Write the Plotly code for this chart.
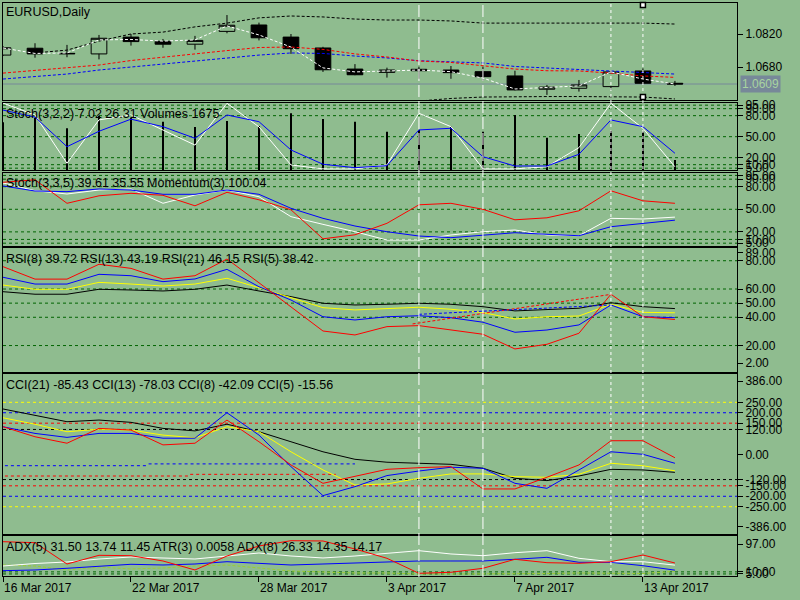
import plotly.graph_objects as go

dates = ["16 Mar 2017", "17 Mar 2017", "20 Mar 2017", "21 Mar 2017", "22 Mar 2017",
         "23 Mar 2017", "24 Mar 2017", "27 Mar 2017", "28 Mar 2017", "29 Mar 2017",
         "30 Mar 2017", "31 Mar 2017", "3 Apr 2017", "4 Apr 2017", "5 Apr 2017",
         "6 Apr 2017", "7 Apr 2017", "10 Apr 2017", "11 Apr 2017", "12 Apr 2017",
         "13 Apr 2017", "14 Apr 2017"]
bars = list(range(len(dates)))
shown_dates = ["16 Mar 2017", "22 Mar 2017", "28 Mar 2017", "3 Apr 2017", "7 Apr 2017", "13 Apr 2017"]
marked_dates = ["4 Apr 2017", "6 Apr 2017"]
dotted_dates = ["12 Apr 2017", "13 Apr 2017"]

# EURUSD daily candles
open_ = [1.0731, 1.0760, 1.0736, 1.0736, 1.0807, 1.0789, 1.0777, 1.0831, 1.0858, 1.0807, 1.0761,
         1.0672, 1.0658, 1.0671, 1.0668, 1.0661, 1.0643, 1.0587, 1.0591, 1.0598, 1.0664, 1.0612]
high = [1.0769, 1.0781, 1.0774, 1.0816, 1.0820, 1.0799, 1.0812, 1.0900, 1.0868, 1.0820, 1.0766,
        1.0693, 1.0678, 1.0682, 1.0685, 1.0682, 1.0665, 1.0605, 1.0626, 1.0668, 1.0675, 1.0622]
low = [1.0727, 1.0720, 1.0722, 1.0713, 1.0771, 1.0762, 1.0754, 1.0823, 1.0793, 1.0736, 1.0660,
       1.0646, 1.0636, 1.0631, 1.0631, 1.0623, 1.0582, 1.0563, 1.0577, 1.0584, 1.0610, 1.0601]
close = [1.0762, 1.0736, 1.0738, 1.0802, 1.0788, 1.0777, 1.0793, 1.0857, 1.0804, 1.0758, 1.0669,
         1.0648, 1.0668, 1.0665, 1.0657, 1.0640, 1.0584, 1.0596, 1.0605, 1.0660, 1.0612, 1.0609]
fast_ma = [1.0761, 1.0738, 1.0740, 1.0795, 1.0797, 1.0790, 1.0795, 1.0854, 1.0816, 1.0765, 1.0677,
           1.0660, 1.0664, 1.0668, 1.0661, 1.0634, 1.0588, 1.0596, 1.0601, 1.0660, 1.0630, 1.0609]
red_ma = [1.0655, 1.0666, 1.0677, 1.0689, 1.0708, 1.0723, 1.0736, 1.0750, 1.0763, 1.0765, 1.0755,
          1.0736, 1.0723, 1.0706, 1.0700, 1.0687, 1.0672, 1.0665, 1.0664, 1.0655, 1.0643, 1.0637]
blue_ma = [1.0630, 1.0639, 1.0651, 1.0668, 1.0681, 1.0693, 1.0706, 1.0719, 1.0731, 1.0740, 1.0738,
           1.0727, 1.0719, 1.0707, 1.0702, 1.0698, 1.0683, 1.0677, 1.0670, 1.0663, 1.0656, 1.0651]
upper_band = [None, 1.0740, 1.0752, 1.0790, 1.0820, 1.0828, 1.0850, 1.0866, 1.0888, 1.0896, 1.0892,
              1.0883, 1.0879, 1.0879, 1.0875, 1.0866, 1.0866, 1.0866, 1.0866, 1.0866, 1.0866, 1.0862]
lower_band = [None] * 13 + [1.0537, 1.0548, 1.0554, 1.0556, 1.0556, 1.0556, 1.0556, 1.0554, 1.0546]

# Stoch(3,2,2) + Volumes
stoch1_main = [98, 81, 12, 74, 81, 60, 38, 97.7, 64, 9.6, 4, 4, 9.6, 83.4, 64.3, 4, 4, 7.1, 34.3, 97.7, 62, 7.02]
stoch1_signal = [88, 78, 35.7, 57.7, 75, 64.3, 47.7, 81, 71.4, 31, 10.6, 5.7, 8.6, 59.6, 62, 21.4, 8.1, 8.1,
                 24.9, 73.9, 64.3, 26.31]
volumes = [8000, 8760, 6985, 9095, 8760, 8090, 7200, 8210, 7370, 9500, 8540, 8090, 6415, 6700, 7250, 6415,
           9210, 5410, 6030, 6580, 6415, 1675]

# Stoch(3,3,5) + Momentum(3)
stoch2_main = [85, 74.7, 70.3, 75.6, 77, 58, 69, 75.6, 66.7, 40.2, 30, 20.2, 9.2, 9.2, 15.9, 20.2, 22.5, 15.9,
               14.9, 38, 37.1, 39.61]
stoch2_signal = [81, 74.3, 73.4, 77, 75.6, 69.9, 69.9, 75.6, 69.9, 51.3, 38, 27.8, 20.2, 14.5, 12.3, 15.9, 18.9,
                 16.8, 14.9, 26.9, 31.4, 35.55]
momentum = [100.46, 100.51, 100.04, 100.19, 100.24, 100.20, 99.99, 100.26, 100.11, 99.91, 99.33, 99.41, 99.64,
            100.01, 100.04, 99.92, 99.71, 99.75, 99.89, 100.29, 100.09, 100.04]

# RSI
rsi5 = [75.8, 67, 67, 77.5, 74.6, 67, 69.4, 81.2, 64.4, 47.1, 30.3, 27.5, 33.4, 34.1, 31, 28, 17.6, 20.9, 28.7,
        56.3, 40.4, 38.42]
rsi8 = [68.3, 63.5, 63.5, 70.4, 69.4, 65.2, 67.1, 73.9, 61.6, 52.2, 40.4, 38.1, 40.4, 41.1, 39.7, 36.5, 29.4, 31,
        34.6, 48.7, 40.4, 39.72]
rsi13 = [62.8, 59.8, 59.8, 64.7, 63.5, 62.1, 63.5, 67.6, 60.9, 53.9, 46.8, 45.2, 46.4, 47.1, 45.7, 43.3, 38.8,
         40.4, 40.9, 49.2, 43.5, 43.19]
rsi21 = [58.1, 56.3, 56.3, 59.8, 59.3, 58.6, 59.8, 62.8, 58.6, 54.6, 49.9, 48.7, 49.2, 49.9, 49.2, 47.5, 44.5,
         45.7, 46.4, 50.3, 47.5, 46.15]
rsi5_trend_x = [12.8, 19]
rsi5_trend_y = [35.3, 56.2]
rsi8_trend_x = [13.0, 19]
rsi8_trend_y = [42.1, 48.7]

# CCI
cci21 = [218, 189, 157, 165, 154, 125, 113, 145, 109, 61, 13, -23, -37, -42, -47, -66, -114, -125, -103, -71,
         -74, -85.43]
cci13 = [176, 145, 109, 121, 117, 93, 80, 133, 109, 13, -74, -146, -141, -114, -93, -93, -106, -109, -95, -42,
         -54, -78.03]
cci8 = [133, 101, 82, 101, 101, 78, 78, 200, 93, -58, -197, -154, -101, -79, -61, -66, -138, -162, -74, 13, 1,
        -42.09]
cci5 = [133, 85, 54, 125, 117, 46, 54, 165, 61, -50, -138, -103, -71, -63, -58, -165, -165, -109, -50, 66, 66,
        -15.56]
cci_levels = [250, 200, 150, 120, -120, -150, -200, -250]
cci_level_colors = ["#ffff00", "#0000ff", "#ff0000", "#000000", "#000000", "#ff0000", "#0000ff", "#ffff00"]
cci_blue_seg_x = [0.06, 4.5, None, 4.55, 11]
cci_blue_seg_y = [-53.6, -53.6, None, -45, -45]
cci_red_seg_x = [0.06, 5.8, None, 5.85, 10.4]
cci_red_seg_y = [-103, -103, None, -95, -95]

# ADX / ATR
adx5 = [83.2, 80.8, 29.1, 50.2, 49.2, 36.4, 14.6, 48.5, 72.8, 85.6, 84.9, 65.5, 42.9, 6.5, 9, 18.7, 40.5, 32.3,
        30.8, 34.7, 50.9, 31.5]
adx8 = [24.3, 30.3, 34, 41.2, 46.1, 43.7, 41.2, 48.5, 55.8, 48.5, 43.7, 48.5, 55.8, 61.4, 53.4, 49.2, 56.5, 61.4,
        42.9, 34.7, 34.7, 26.33]
di_plus = [12.9, 14.6, 18.7, 24.3, 28.4, 26.7, 29.1, 34.7, 31.5, 26.7, 29.1, 31.5, 34, 36.4, 36.4, 36.4, 40.5,
           45.3, 33.2, 33.2, 25, 14.17]
di_minus = [26.7, 24.3, 14.6, 21.8, 17, 19.4, 24.3, 26.7, 19.4, 12.1, 9.7, 7.3, 7.3, 4.9, 4.9, 4.9, 4.9, 6, 7.3,
            7.3, 6, 11.45]

BG = "#8FBC8F"
GRID = "#006400"
FONT = "Liberation Sans"
X0, X1 = 3 / 800, 737 / 800
XR = [0, 22.94]


def dom(top_px, bottom_px):
    return [1 - bottom_px / 600, 1 - top_px / 600]


fig = go.Figure()

# main price panel
fig.add_trace(go.Candlestick(x=bars, open=open_, high=high, low=low, close=close,
                             increasing=dict(line=dict(color="black", width=1), fillcolor=BG),
                             decreasing=dict(line=dict(color="black", width=1), fillcolor="black"),
                             whiskerwidth=0, xaxis="x", yaxis="y"))
fig.add_trace(go.Scatter(x=bars, y=upper_band, mode="lines", line=dict(color="black", width=1, dash="3px,2px")))
fig.add_trace(go.Scatter(x=bars, y=lower_band, mode="lines", line=dict(color="black", width=1, dash="3px,2px")))
fig.add_trace(go.Scatter(x=bars, y=blue_ma, mode="lines", line=dict(color="#0000ff", width=1, dash="3px,2px")))
fig.add_trace(go.Scatter(x=bars, y=red_ma, mode="lines", line=dict(color="#ff0000", width=1, dash="3px,2px")))
fig.add_trace(go.Scatter(x=bars, y=fast_ma, mode="lines", line=dict(color="white", width=1, dash="3px,2px")))

# stoch 1 + volumes (volume on base axis y2, stoch on overlay y7)
fig.add_trace(go.Bar(x=bars, y=volumes, width=0.03, marker=dict(color="black", line_width=0),
                     xaxis="x2", yaxis="y2"))
fig.add_trace(go.Scatter(x=bars, y=stoch1_main, mode="lines", line=dict(color="white", width=1),
                         xaxis="x2", yaxis="y7"))
fig.add_trace(go.Scatter(x=bars, y=stoch1_signal, mode="lines", line=dict(color="#0000ff", width=1),
                         xaxis="x2", yaxis="y7"))

# stoch 2 + momentum
fig.add_trace(go.Scatter(x=bars, y=stoch2_main, mode="lines", line=dict(color="white", width=1),
                         xaxis="x3", yaxis="y3"))
fig.add_trace(go.Scatter(x=bars, y=stoch2_signal, mode="lines", line=dict(color="#0000ff", width=1),
                         xaxis="x3", yaxis="y3"))
fig.add_trace(go.Scatter(x=bars, y=momentum, mode="lines", line=dict(color="#ff0000", width=1),
                         xaxis="x3", yaxis="y8"))

# RSI
for vals, col in [(rsi21, "black"), (rsi13, "#ffff00"), (rsi8, "#0000ff"), (rsi5, "#ff0000")]:
    fig.add_trace(go.Scatter(x=bars, y=vals, mode="lines", line=dict(color=col, width=1),
                             xaxis="x4", yaxis="y4"))
fig.add_trace(go.Scatter(x=rsi5_trend_x, y=rsi5_trend_y, mode="lines",
                         line=dict(color="#ff0000", width=1, dash="3px,2px"), xaxis="x4", yaxis="y4"))
fig.add_trace(go.Scatter(x=rsi8_trend_x, y=rsi8_trend_y, mode="lines",
                         line=dict(color="#0000ff", width=1, dash="3px,2px"), xaxis="x4", yaxis="y4"))

# CCI
fig.add_trace(go.Scatter(x=cci_blue_seg_x, y=cci_blue_seg_y, mode="lines",
                         line=dict(color="#0000ff", width=1, dash="3px,3px"), xaxis="x5", yaxis="y5"))
fig.add_trace(go.Scatter(x=cci_red_seg_x, y=cci_red_seg_y, mode="lines",
                         line=dict(color="#ff0000", width=1, dash="3px,3px"), xaxis="x5", yaxis="y5"))
for vals, col in [(cci21, "black"), (cci13, "#ffff00"), (cci8, "#0000ff"), (cci5, "#ff0000")]:
    fig.add_trace(go.Scatter(x=bars, y=vals, mode="lines", line=dict(color=col, width=1),
                             xaxis="x5", yaxis="y5"))

# ADX
fig.add_trace(go.Scatter(x=bars, y=di_minus, mode="lines", line=dict(color="#9acd32", width=1, dash="3px,2px"),
                         xaxis="x6", yaxis="y6"))
fig.add_trace(go.Scatter(x=bars, y=di_plus, mode="lines", line=dict(color="#0000ff", width=1),
                         xaxis="x6", yaxis="y6"))
fig.add_trace(go.Scatter(x=bars, y=adx8, mode="lines", line=dict(color="white", width=1),
                         xaxis="x6", yaxis="y6"))
fig.add_trace(go.Scatter(x=bars, y=adx5, mode="lines", line=dict(color="#ff0000", width=1),
                         xaxis="x6", yaxis="y6"))

# level lines
shapes = []


def hline(xn, yn, level, color=GRID, dash="3px,3px"):
    shapes.append(dict(type="line", xref=f"{xn} domain", x0=0, x1=1, yref=yn, y0=level, y1=level,
                       line=dict(color=color, width=1, dash=dash), layer="below"))


for lv in [95, 90, 80, 50, 20, 10, 5]:
    hline("x2", "y7", lv)
    hline("x3", "y3", lv)
for lv in [80, 60, 50, 40, 20]:
    hline("x4", "y4", lv)
for lv, col in zip(cci_levels, cci_level_colors):
    hline("x5", "y5", lv, col)
for lv in [10, 5]:
    hline("x6", "y6", lv)
# bid line
shapes.append(dict(type="line", xref="x domain", x0=0, x1=1, yref="y", y0=close[-1], y1=close[-1],
                   line=dict(color="#778899", width=1), layer="below"))
# vertical lines
for d in marked_dates:
    shapes.append(dict(type="line", xref="x", x0=dates.index(d), x1=dates.index(d), yref="paper",
                       y0=1 - 577 / 600, y1=1 - 3 / 600, line=dict(color="white", width=1, dash="12px,4px"),
                       layer="above"))
for d in dotted_dates:
    shapes.append(dict(type="line", xref="x", x0=dates.index(d), x1=dates.index(d), yref="paper",
                       y0=1 - 577 / 600, y1=1 - 3 / 600, line=dict(color="white", width=1, dash="3px,3px"),
                       layer="above"))
# selection handles on the last vertical line
for yd in [0.979, 0.031]:
    shapes.append(dict(type="rect", xref="x", xsizemode="pixel", xanchor=dates.index(dotted_dates[-1]),
                       x0=-2.5, x1=2.5, yref="y domain", ysizemode="pixel", yanchor=yd, y0=-2.5, y1=2.5,
                       fillcolor="white", line=dict(color="black", width=1.5), layer="above"))

panels = {
    "": dom(3, 100),
    "2": dom(103, 170),
    "3": dom(173, 246),
    "4": dom(248, 372),
    "5": dom(374, 534),
    "6": dom(536, 576),
}

axfont = dict(family=FONT, size=12, color="black")
capfont = dict(family=FONT, size=12.5, color="black")
layout = dict(
    width=800, height=600, margin=dict(l=0, r=0, t=0, b=0),
    paper_bgcolor=BG, plot_bgcolor=BG, showlegend=False, boxgap=0.3,
    font=axfont, shapes=shapes,
)
for n, d in panels.items():
    layout[f"xaxis{n}"] = dict(domain=[X0, X1], range=XR, anchor=f"y{n}", showline=True, mirror=True,
                               linecolor="black", linewidth=1, showgrid=False, zeroline=False,
                               showticklabels=False, ticks="", fixedrange=True)
    layout[f"yaxis{n}"] = dict(domain=d, anchor=f"x{n}", side="right", showline=True, mirror=True,
                               linecolor="black", linewidth=1, showgrid=False, zeroline=False,
                               ticks="outside", ticklen=5, tickcolor="black", tickfont=axfont,
                               automargin=False, fixedrange=True)

layout["xaxis"]["rangeslider"] = dict(visible=False)
layout["xaxis6"].update(ticks="outside", ticklen=5, tickcolor="black",
                        tickvals=[dates.index(d) for d in shown_dates])

layout["yaxis"].update(range=[1.05415, 1.09508], tickvals=[1.0820, 1.0680], ticktext=["1.0820", "1.0680"])
layout["yaxis2"].update(range=[0, 11222], showticklabels=False, ticks="")
layout["yaxis7"] = dict(overlaying="y2", anchor="x2", side="right", range=[2.4, 98.1], showline=False,
                        showgrid=False, zeroline=False, ticks="outside", ticklen=5, tickcolor="black",
                        tickfont=axfont, tickvals=[95, 90, 80, 50, 20, 10, 5], automargin=False,
                        ticktext=["95.00", "90.00", "80.00", "50.00", "20.00", "10.00", "5.00"])
layout["yaxis3"].update(range=[1.25, 98.2], tickvals=[95, 90, 80, 50, 20, 10, 5],
                        ticktext=["95.00", "90.00", "80.00", "50.00", "20.00", "10.00", "5.00"])
layout["yaxis8"] = dict(overlaying="y3", anchor="x3", range=[99.186, 100.646], visible=False)
layout["yaxis4"].update(range=[1.3, 89], tickvals=[85.9, 80, 60, 50, 40, 20, 7.5],
                        ticktext=["89.00", "80.00", "60.00", "50.00", "40.00", "20.00", "2.00"])
layout["yaxis5"].update(range=[-380.7, 385.5],
                        tickvals=[352, 250, 200, 150, 120, 0, -120, -150, -200, -250, -346],
                        ticktext=["386.00", "250.00", "200.00", "150.00", "120.00", "0.00", "-120.00",
                                  "-150.00", "-200.00", "-250.00", "-386.00"])
layout["yaxis6"].update(range=[0, 97], tickvals=[77.6, 10, 5], ticktext=["97.00", "10.00", "5.00"])

fig.update_layout(**layout)

# panel captions
captions = [
    ("EURUSD,Daily", 12),
    ("Stoch(3,2,2) 7.02 26.31 Volumes 1675", 114),
    ("Stoch(3,3,5) 39.61 35.55 Momentum(3) 100.04", 183),
    ("RSI(8) 39.72 RSI(13) 43.19 RSI(21) 46.15 RSI(5) 38.42", 259),
    ("CCI(21) -85.43 CCI(13) -78.03 CCI(8) -42.09 CCI(5) -15.56", 385),
    ("ADX(5) 31.50 13.74 11.45 ATR(3) 0.0058 ADX(8) 26.33 14.35 14.17", 547),
]
for text, ypx in captions:
    fig.add_annotation(text=text, xref="paper", yref="paper", x=4 / 800, y=1 - ypx / 600,
                       xanchor="left", yanchor="middle", showarrow=False, font=capfont)

for d in shown_dates:
    fig.add_annotation(text=d, xref="x6", yref="paper", x=dates.index(d), y=1 - 588 / 600,
                       xanchor="left", yanchor="middle", showarrow=False, font=axfont, xshift=-1)

fig.add_annotation(text=f"{close[-1]:.4f}", xref="paper", yref="y", x=740 / 800, y=close[-1],
                   xanchor="left", yanchor="middle", showarrow=False, bgcolor="#778899",
                   borderpad=1, font=dict(family=FONT, size=12, color="#a8d4a0"))

# the page's default body margin would shift the figure by 8px
fig.write_html("out.html", config={"displayModeBar": False},
               post_script="document.body.style.margin='0px';")
